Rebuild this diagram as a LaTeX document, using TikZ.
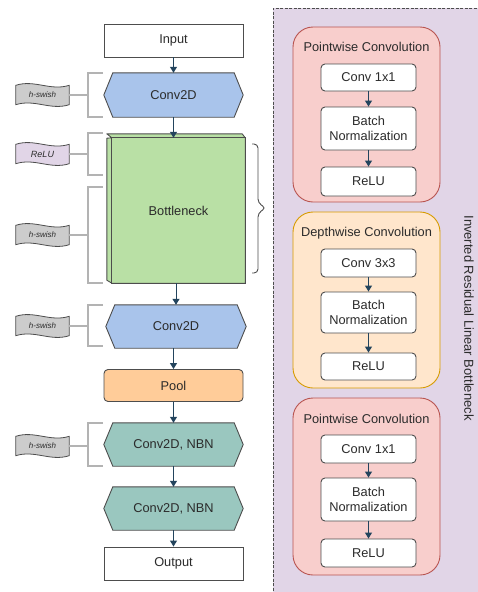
\documentclass[tikz,border=0pt]{standalone}
\usepackage{fontspec}
\setmainfont{Liberation Sans}
\usetikzlibrary{calc,arrows.meta}
\pgfdeclarelayer{bg}
\pgfsetlayers{bg,main}
\definecolor{txtc}{HTML}{2B2B2B}
\definecolor{strk}{HTML}{4D4D4D}
\definecolor{arrc}{HTML}{23445D}
\definecolor{hexblue}{HTML}{A9C4EB}
\definecolor{cubegreen}{HTML}{B9E0A5}
\definecolor{poolor}{HTML}{FFCC99}
\definecolor{teal}{HTML}{9AC7BF}
\definecolor{tapegray}{HTML}{CCCCCC}
\definecolor{lav}{HTML}{E1D5E7}
\definecolor{pinkf}{HTML}{F8CECC}
\definecolor{pinks}{HTML}{B85450}
\definecolor{orf}{HTML}{FFE6CC}
\definecolor{ors}{HTML}{D79B00}
\definecolor{brkc}{HTML}{B3B3B3}
\newcommand\hexpath[2]{\begin{pgfonlayer}{bg}\draw[line width=0.9pt,draw=strk,fill=#2] (#1.west) -- ([xshift=9pt]#1.north west) -- ([xshift=-9pt]#1.north east) -- (#1.east) -- ([xshift=-9pt]#1.south east) -- ([xshift=9pt]#1.south west) -- cycle;\end{pgfonlayer}}
\newcommand\tapepath[2]{\begin{pgfonlayer}{bg}\draw[line width=0.8pt,draw=strk,fill=#2] (#1.north west) .. controls ($(#1.north west)!0.35!(#1.north east)+(0,6pt)$) and ($(#1.north west)!0.65!(#1.north east)+(0,-6pt)$) .. (#1.north east) -- (#1.south east) .. controls ($(#1.south west)!0.65!(#1.south east)+(0,-6pt)$) and ($(#1.south west)!0.35!(#1.south east)+(0,6pt)$) .. (#1.south west) -- cycle;\end{pgfonlayer}}
\begin{document}
\begin{tikzpicture}[x=1pt,y=-1pt,
  every node/.style={font=\fontsize{12.8}{14.5}\selectfont,text=txtc,align=center,inner sep=0pt},
  mainbox/.style={draw=strk,fill=white,line width=0.9pt,minimum width=139pt,minimum height=33pt},
  hexn/.style={minimum width=139pt,minimum height=44pt},
  tapen/.style={minimum width=53pt,minimum height=19pt,font=\fontsize{8}{9}\selectfont\itshape},
  inbox/.style={draw=strk,fill=white,line width=0.9pt,rounded corners=4pt,minimum width=95pt},
  grp/.style={line width=0.9pt,rounded corners=20pt,minimum width=147pt},
  arr/.style={draw=arrc,line width=1pt,-{Triangle[width=7pt,length=6pt]}},
  brk/.style={draw=brkc,line width=1.1pt},
]
\useasboundingbox (0,0) rectangle (477,592);
% right panel
\fill[lav] (273,8) rectangle (490,600);
\draw[draw=strk,line width=0.8pt,dash pattern=on 3pt off 1.5pt] (490,8) -- (273,8) -- (273,600);
% groups
\node[grp,draw=pinks,fill=pinkf,minimum height=175pt] (g1) at (366.5,114.5) {};
\node[grp,draw=ors,fill=orf,minimum height=176pt] (g2) at (366.5,300) {};
\node[grp,draw=pinks,fill=pinkf,minimum height=177pt] (g3) at (366.5,486.5) {};
\node (g1t) at (366.5,47) {Pointwise Convolution};
\node (g2t) at (366.5,233) {Depthwise Convolution};
\node (g3t) at (366.5,419) {Pointwise Convolution};
\node[inbox,minimum height=27pt] (a1) at (368.5,77.5) {Conv 1x1};
\node[inbox,minimum height=43pt] (a2) at (368.5,128.5) {Batch\\Normalization};
\node[inbox,minimum height=29pt] (a3) at (368.5,181.5) {ReLU};
\node[inbox,minimum height=28pt] (b1) at (368.5,263) {Conv 3x3};
\node[inbox,minimum height=41pt] (b2) at (368.5,312.5) {Batch\\Normalization};
\node[inbox,minimum height=27pt] (b3) at (368.5,366.5) {ReLU};
\node[inbox,minimum height=28pt] (c1) at (368.5,449) {Conv 1x1};
\node[inbox,minimum height=43pt] (c2) at (368.5,499.5) {Batch\\Normalization};
\node[inbox,minimum height=28pt] (c3) at (368.5,553) {ReLU};
\draw[arr] (a1) -- (a2); \draw[arr] (a2) -- (a3);
\draw[arr] (b1) -- (b2); \draw[arr] (b2) -- (b3);
\draw[arr] (c1) -- (c2); \draw[arr] (c2) -- (c3);
\node[rotate=-90,font=\fontsize{13}{15}\selectfont] (irlb) at (469,318) {Inverted Residual Linear Bottleneck};
% left column
\node[mainbox] (in) at (173.5,40.5) {Input};
\node[hexn] (cv1) at (173.5,95) {Conv2D}; \hexpath{cv1}{hexblue}
\node[minimum width=133pt,minimum height=145pt] (bn) at (178.5,210.5) {Bottleneck};
\begin{pgfonlayer}{bg}
\draw[draw=strk,line width=0.9pt,fill=cubegreen,line join=round] (bn.north west) -- ++(-5pt,4pt) -- ([xshift=-3pt,yshift=4pt]bn.north east) -- (bn.north east) -- (bn.south east) -- ([xshift=0pt]bn.south west) -- ++(-5pt,3pt) -- ++(0,142pt) -- cycle;
\draw[draw=strk,line width=0.9pt] (bn.north west) rectangle (bn.south east);
\end{pgfonlayer}
\node[hexn,minimum width=140pt,minimum height=43pt] (cv2) at (176,326.5) {Conv2D}; \hexpath{cv2}{hexblue}
\node[mainbox,fill=poolor,rounded corners=4pt,minimum height=32pt] (pool) at (173.5,385.5) {Pool};
\node[hexn,minimum height=43pt] (nb1) at (173.5,444.5) {Conv2D, NBN}; \hexpath{nb1}{teal}
\node[hexn,minimum height=43pt] (nb2) at (173.5,508.5) {Conv2D, NBN}; \hexpath{nb2}{teal}
\node[mainbox] (out) at (173.5,563.5) {Output};
\draw[arr] (in) -- (cv1);
\draw[arr] (cv1.south) -- (cv1.south |- bn.north);
\draw[arr] (bn.south -| cv2.north) -- (cv2.north);
\draw[arr] (cv2.south -| pool.north) -- (pool.north);
\draw[arr] (pool) -- (nb1);
\draw[arr] (nb1) -- (nb2);
\draw[arr] (nb2) -- (out);
% brace
\coordinate (brt) at (252,144);
\coordinate (brb) at (252,273);
\coordinate (brp) at (266,208);
\draw[draw=strk,line width=0.9pt,rounded corners=4pt] (brt) -- (258,144) -- (258,203) -- (brp) -- (258,213) -- (258,273) -- (brb);
% labels and brackets
\node[tapen] (l1) at (42.5,95) {h-swish}; \tapepath{l1}{tapegray}
\node[tapen,font=\fontsize{9}{10}\selectfont\itshape] (l2) at (42.5,154) {ReLU}; \tapepath{l2}{lav}
\node[tapen] (l3) at (42.5,235) {h-swish}; \tapepath{l3}{tapegray}
\node[tapen] (l4) at (42.5,326) {h-swish}; \tapepath{l4}{tapegray}
\node[tapen] (l5) at (42.5,446) {h-swish}; \tapepath{l5}{tapegray}
\coordinate (k1) at (88,95);
\coordinate (k2) at (88,154);
\coordinate (k3) at (88,235);
\coordinate (k4) at (88,326);
\coordinate (k5) at (88,446);
\draw[brk] (103,73) -| (88,117) -- (103,117);
\draw[brk] (103,133) -| (88,175) -- (103,175);
\draw[brk] (103,187) -| (88,283) -- (103,283);
\draw[brk] (103,305) -| (88,346) -- (103,346);
\draw[brk] (103,423) -| (88,466) -- (103,466);
\draw[brk] (l1.east) -- (k1);
\draw[brk] (l2.east) -- (k2);
\draw[brk] (l3.east) -- (k3);
\draw[brk] (l4.east) -- (k4);
\draw[brk] (l5.east) -- (k5);
\end{tikzpicture}
\end{document}
